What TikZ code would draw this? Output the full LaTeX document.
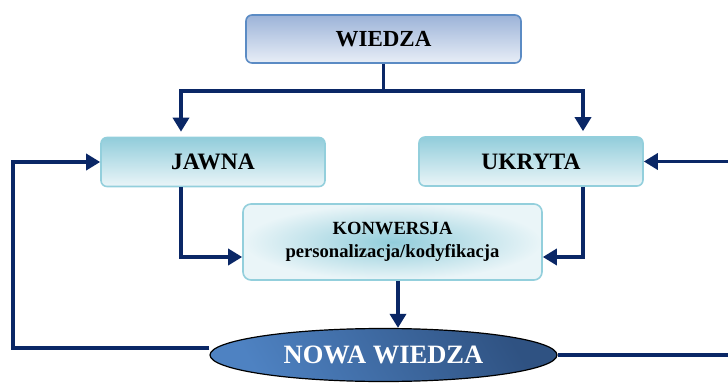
\documentclass[tikz,border=0pt]{standalone}
\usepackage{fontspec}
\setmainfont{Liberation Serif}
\usetikzlibrary{arrows.meta,shapes.geometric}
\definecolor{navy}{HTML}{0A2766}
\definecolor{topblue}{HTML}{9CB3D8}
\definecolor{topbluel}{HTML}{E8EEF7}
\definecolor{topedge}{HTML}{5B8BC4}
\definecolor{teal}{HTML}{92CDDB}
\definecolor{teall}{HTML}{EAF5F8}
\definecolor{tealedge}{HTML}{93CFDC}
\definecolor{ovalA}{HTML}{4E82C2}
\definecolor{ovalB}{HTML}{2F5282}
\tikzset{
  mainbox/.style={draw=topedge, line width=1.6pt, rounded corners=6pt,
    top color=topblue, bottom color=topbluel,
    minimum width=275pt, minimum height=48pt,
    font=\bfseries\fontsize{23}{26}\selectfont},
  kindbox/.style={draw=tealedge, line width=1.6pt, rounded corners=6pt,
    top color=teal, bottom color=teall,
    minimum width=224pt, minimum height=49pt,
    font=\bfseries\fontsize{23.5}{26}\selectfont},
  convbox/.style={draw=tealedge, line width=1.6pt, rounded corners=8pt,
    inner color=teal, outer color=teall,
    minimum width=299pt, minimum height=76pt, align=center,
    font=\bfseries\fontsize{18.6}{25}\selectfont},
  newoval/.style={ellipse, draw=black, line width=1.2pt,
    left color=ovalA, right color=ovalB, shading angle=120,
    minimum width=347pt, minimum height=53pt, inner sep=0pt,
    text=white, font=\bfseries\fontsize{26.5}{29}\selectfont},
  link/.style={draw=navy, line width=3.4pt},
  arrow/.style={link, -{Triangle[length=14pt,width=16pt]}}
}
\begin{document}
\begin{tikzpicture}[x=1pt,y=-1pt]
  \useasboundingbox (0,0) rectangle (728,385);
  \clip (0,0) rectangle (728,385);

  % boxes
  \node[mainbox] (wiedza) at (383.5,39) {WIEDZA};
  \node[kindbox] (jawna) at (213,162) {JAWNA};
  \node[kindbox] (ukryta) at (531,161.5) {UKRYTA};
  \node[convbox] (konw) at (392.5,242) {KONWERSJA\\[-2pt]personalizacja/kodyfikacja};
  \node[newoval] (nowa) at (383.5,355) {NOWA WIEDZA};

  % routing helpers
  \coordinate (fork) at (383.5,91);
  \coordinate (lx) at (181,0);
  \coordinate (rx) at (583,0);
  \coordinate (convy) at (0,257);
  \coordinate (downx) at (398,0);
  \coordinate (loopl) at (13,348);
  \coordinate (loopr) at (740,355);

  % split from WIEDZA
  \draw[link] (wiedza.south) -- (fork);
  \draw[arrow, shorten >=5pt] (fork) -| (jawna.north -| lx);
  \draw[arrow, shorten >=5pt] (fork) -| (ukryta.north -| rx);

  % into the conversion box
  \draw[arrow] (jawna.south -| lx) |- (konw.west |- convy);
  \draw[arrow] (ukryta.south -| rx) |- (konw.east |- convy);

  % conversion yields new knowledge
  \draw[arrow] (konw.south -| downx) -- (nowa.north -| downx);

  % feedback loops
  \draw[arrow] (nowa.west |- loopl) -- (loopl) |- (jawna.west);
  \draw[arrow] (nowa.east) -- (loopr) |- (ukryta.east);
\end{tikzpicture}
\end{document}
